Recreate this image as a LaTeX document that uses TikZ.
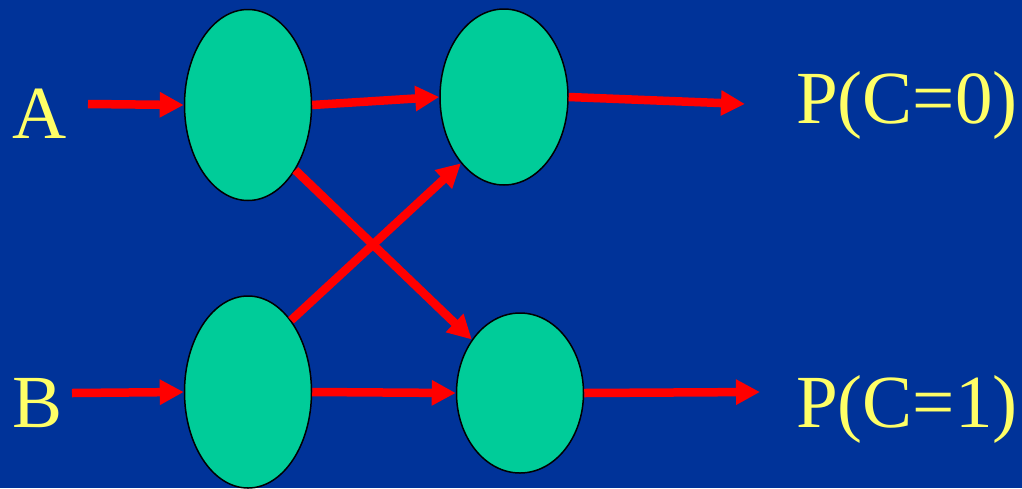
\documentclass[tikz,border=0pt]{standalone}
\usepackage{fontspec}
\setmainfont{Liberation Serif}
\usetikzlibrary{shapes.geometric, arrows.meta}

\definecolor{slideblue}{HTML}{003399}
\definecolor{unitgreen}{HTML}{00CC99}
\definecolor{labelyellow}{HTML}{FFFF66}

\begin{document}
\begin{tikzpicture}[x=1pt, y=-1pt,
        unit/.style={ellipse, draw=black, line width=1.5pt, fill=unitgreen, inner sep=0pt},
        wire/.style={red, line width=8.5pt, -{Triangle[length=24pt, width=24pt]}},
        lbl/.style={text=labelyellow, font=\fontsize{75}{80}\selectfont, inner sep=0pt, anchor=base west}]
            \fill[slideblue] (0, 0) rectangle (1022, 488);
            \useasboundingbox (0, 0) rectangle (1022, 488);

            \node[unit, minimum width=127pt, minimum height=191pt] (e1) at (248, 105) {};
            \node[unit, minimum width=128pt, minimum height=176pt] (e2) at (504, 97) {};
            \node[unit, minimum width=127pt, minimum height=192pt] (e3) at (248, 392) {};
            \node[unit, minimum width=127pt, minimum height=160pt] (e4) at (520, 393) {};

            \node[lbl] (a) at (12, 138) {A};
            \node[lbl] (b) at (12, 427) {B};
            \node[lbl] (p0) at (796, 123) {P(C=0)};
            \node[lbl] (p1) at (796, 427) {P(C=1)};

            \coordinate (ain) at (88, 104);
            \coordinate (bin) at (72, 393);
            \coordinate (out0) at (745, 104);
            \coordinate (out1) at (760, 392);

            \draw[wire] (ain) -- (e1.west);
            \draw[wire] (bin) -- (e3.west);

            \draw[wire] (e1.east) -- (e2.west);
            \draw[wire] (e3.east) -- (e4.west);

            \draw[wire] (e1.-54) -- (e4.132);
            \draw[wire] (e3.59) -- (e2.-123);

            \draw[wire] (e2.east) -- (out0);
            \draw[wire] (e4.east) -- (out1);
        \end{tikzpicture}
\end{document}
